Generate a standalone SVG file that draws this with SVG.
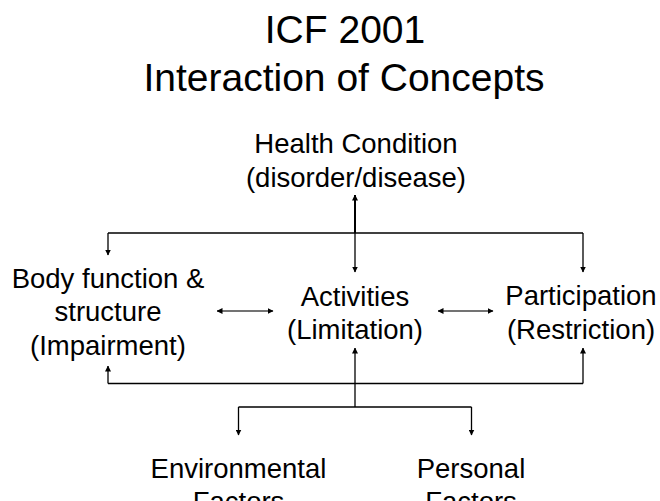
<svg xmlns="http://www.w3.org/2000/svg" width="660" height="501" viewBox="0 0 660 501">
<style>
text{font-family:"Liberation Sans",Arial,Helvetica,sans-serif;fill:#000;text-anchor:middle}
.title{font-size:39px}
.lbl{font-size:27.5px}
.c{stroke:#000;stroke-width:1.3;fill:none}
.a{marker-end:url(#ah)}
.b{marker-start:url(#ah);marker-end:url(#ah)}
</style>
<defs>
<marker id="ah" viewBox="0 0 6 6" refX="5.5" refY="3" markerWidth="6" markerHeight="6" markerUnits="userSpaceOnUse" orient="auto-start-reverse">
<path d="M0,0 L6,3 L0,6 z" fill="#000"/>
</marker>
</defs>
<rect width="660" height="501" fill="#fff"/>
<g id="title">
<text class="title" x="345" y="43">ICF 2001</text>
<text class="title" x="344" y="91">Interaction of Concepts</text>
</g>
<g id="health">
<text class="lbl" x="356" y="153">Health Condition</text>
<text class="lbl" x="356" y="187">(disorder/disease)</text>
</g>
<g id="body">
<text class="lbl" x="108" y="287.5">Body function &amp;</text>
<text class="lbl" x="108" y="321">structure</text>
<text class="lbl" x="108" y="354.5">(Impairment)</text>
</g>
<g id="activities">
<text class="lbl" x="355" y="305.5">Activities</text>
<text class="lbl" x="355" y="339">(Limitation)</text>
</g>
<g id="participation">
<text class="lbl" x="581" y="305">Participation</text>
<text class="lbl" x="581" y="338.5">(Restriction)</text>
</g>
<g id="environmental">
<text class="lbl" x="238.5" y="477.5">Environmental</text>
<text class="lbl" x="238.5" y="511">Factors</text>
</g>
<g id="personal">
<text class="lbl" x="471" y="477.5">Personal</text>
<text class="lbl" x="471" y="511">Factors</text>
</g>
<g id="connectors">
<line class="c a" x1="355" y1="233" x2="355" y2="195" style="stroke-width:2"/>
<line class="c" x1="108" y1="233" x2="583" y2="233"/>
<line class="c a" x1="108" y1="233" x2="108" y2="255"/>
<line class="c a" x1="355" y1="233" x2="355" y2="272"/>
<line class="c a" x1="583" y1="233" x2="583" y2="272"/>
<line class="c b" x1="217" y1="311" x2="273" y2="311" style="stroke:#444"/>
<line class="c b" x1="438" y1="311" x2="493" y2="311" style="stroke:#444"/>
<line class="c" x1="108" y1="383.5" x2="583" y2="383.5"/>
<line class="c a" x1="108" y1="383.5" x2="108" y2="366"/>
<line class="c a" x1="583" y1="383.5" x2="583" y2="348"/>
<line class="c a" x1="355" y1="407" x2="355" y2="348"/>
<line class="c" x1="238.5" y1="407" x2="471.5" y2="407"/>
<line class="c a" x1="238.5" y1="407" x2="238.5" y2="435"/>
<line class="c a" x1="471.5" y1="407" x2="471.5" y2="435"/>
</g>
</svg>
